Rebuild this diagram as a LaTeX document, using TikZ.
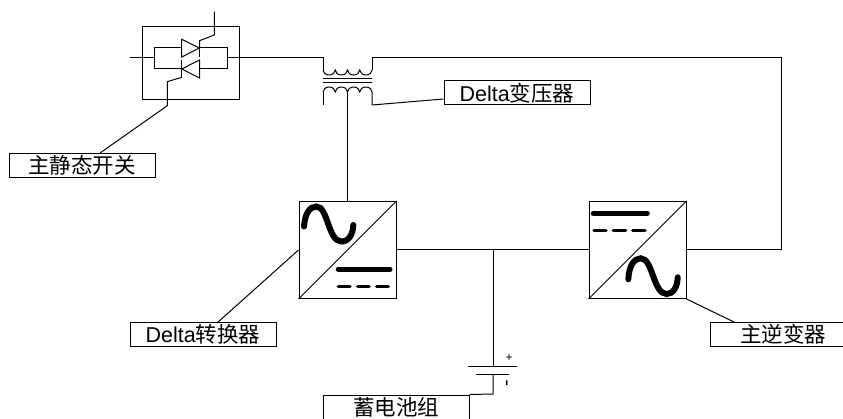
\documentclass[tikz,border=0pt]{standalone}
\usepackage{fontspec}
\setmainfont{Liberation Sans}
\newfontfamily\cjk{Noto Sans CJK SC}
\usetikzlibrary{calc}

\begin{document}
\begin{tikzpicture}[
  x=1pt, y=-1pt,
  wire/.style={draw, line width=1pt},
  tag/.style={draw, line width=1pt, minimum width=146pt, minimum height=24pt,
              inner sep=0pt, font=\fontsize{21.5}{21.5}\selectfont},
  conv/.style={draw, line width=1pt, minimum size=97pt, inner sep=0pt},
  bar/.style={line width=5pt, line cap=round},
  wave/.style={line width=6pt, line cap=round},
  dashbar/.style={line width=3.5pt, line cap=round},
  sign/.style={inner sep=0pt, font=\fontsize{12}{12}\selectfont},
]
\useasboundingbox (0,0) rectangle (843,419);
\node[draw, line width=1pt, minimum width=96.5pt, minimum height=72.5pt, inner sep=0pt] (switch) at (190.75,63) {};
\node[conv] (rect) at (347.5,250) {};
\node[conv] (inv) at (637.5,250) {};
\node[tag] (swtag) at (82,165.5) {\cjk 主静态开关};
\node[tag] (trtag) at (517,93) {Delta{\cjk 变压器}};
\node[tag] (rctag) at (203,334.5) {Delta{\cjk 转换器}};
\node[tag] (invtag) at (783,334.5) {\cjk 主逆变器};
\node[tag] (battag) at (396,407) {\cjk 蓄电池组};
\node[sign] (plus) at (509,358) {+};
\node[sign, rotate=90, font=\fontsize{20}{20}\selectfont] (minus) at (509,383) {-};

\coordinate (inL) at (130,57.5);
\coordinate (loopL) at (154,57.5);
\coordinate (loopR) at (227,57.5);
\coordinate (tA) at (323,70);
\coordinate (tB) at (372,70);
\coordinate (sA) at (323,92);
\coordinate (sB) at (372,92);
\coordinate (sC) at (347.5,92);
\coordinate (batT) at (493,366.5);
\coordinate (batB) at (493,374);
\coordinate (jn) at (493,250);

\draw[wire] (inL) -- (loopL);
\draw[wire] (154,48) rectangle (227,69);
\draw[wire, fill=white] (181.7,39.3) -- (199.5,48) -- (181.7,57) -- cycle;
\draw[wire, fill=white] (199.5,60) -- (181.7,69) -- (199.5,78) -- cycle;
\draw[wire] (199.5,40.7) -- (199.5,57);
\draw[wire] (181.7,60) -- (181.7,77.5);
\draw[wire] (199.5,48) -- (199.5,40.7) -- (214.3,35) -- (214.3,11.7);
\draw[wire] (181.7,77.3) -- (167.3,81.7) -- (167.3,105.7) -- (swtag.north -| 100,0);

\draw[wire] (loopR) -- (323,57.5) -- (tA);
\draw[wire] (tB) -- (372,57.5) -- (781,57.5) -- (781,250) -- (inv.east);
\draw[wire] (tA) \foreach \k in {1,...,4} {arc (180:360:6.125pt and 5pt)};
\draw[wire] (sA) \foreach \k in {1,...,4} {arc (180:0:6.125pt and 5pt)};
\draw[wire] (323,79) -- (372,79);
\draw[wire] (323,83) -- (372,83);
\draw[wire] (sA) -- (323,105.5);
\draw[wire] (sC) -- (rect.north);
\draw[wire] (sB) -- (372,105) -- (trtag.west |- 0,99);

\draw[line width=1pt] (rect.south west) -- (rect.north east);
\draw[line width=1pt] (inv.south west) -- (inv.north east);
\draw[wire] (rect.east) -- (inv.west);
\draw[wire] (rect.west) -- (217,323);
\draw[wire] (inv.south east) -- (734,322);

\draw[wave] (304,226.5) .. controls (305,213) and (310,206.5) .. (316.5,206.5)
  .. controls (328,206.5) and (328,241.5) .. (341.5,241.5)
  .. controls (349,241.5) and (353,234) .. (353.3,225);
\draw[bar] (338.3,269.3) -- (390,269.3);
\draw[dashbar] (338.3,286.7) -- (350,286.7);
\draw[dashbar] (357.7,286.7) -- (369,286.7);
\draw[dashbar] (376.7,286.7) -- (388.3,286.7);

\draw[bar] (593.3,213.3) -- (647.3,213.3);
\draw[dashbar] (594,230.7) -- (606,230.7);
\draw[dashbar] (613.3,230.7) -- (625.7,230.7);
\draw[dashbar] (632.7,230.7) -- (645,230.7);
\draw[wave] (628.3,279.3) .. controls (629,266) and (634,258.3) .. (640.7,258.3)
  .. controls (653,258.3) and (653,294) .. (666.7,294)
  .. controls (673,294) and (677.5,287) .. (677.7,277.3);

\draw[wire] (jn) -- (batT);
\draw[wire] (468,366.5) -- (517,366.5);
\draw[wire] (476,374) -- (509,374);
\draw[wire] (batB) -- (493,394) -- (battag.north east);
\end{tikzpicture}
\end{document}
